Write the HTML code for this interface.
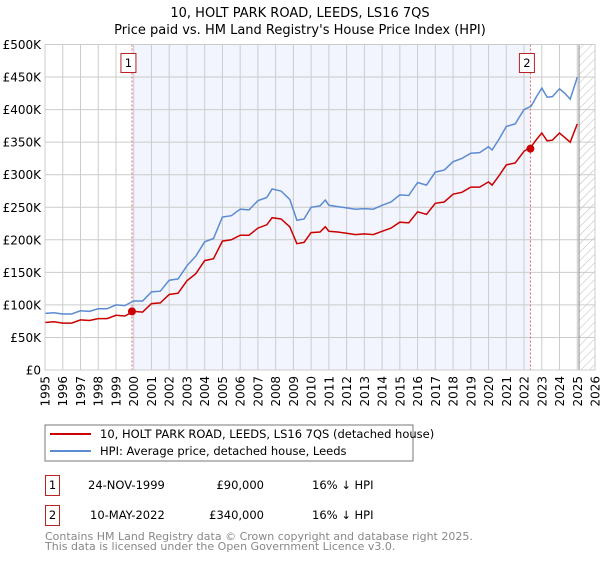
<!DOCTYPE html>
<html><head><meta charset="utf-8"><style>
body{margin:0;background:#fff;font-family:"DejaVu Sans","Liberation Sans",sans-serif}
</style></head><body>
<svg width="600" height="560" viewBox="0 0 600 560" xmlns="http://www.w3.org/2000/svg" font-family="DejaVu Sans, Liberation Sans, sans-serif">
<defs><pattern id="hatch" width="6" height="6" patternUnits="userSpaceOnUse" patternTransform="rotate(45)"><line x1="0" y1="0" x2="0" y2="6" stroke="#bbb" stroke-width="1"/></pattern></defs>
<text x="300" y="17" text-anchor="middle" font-size="13">10, HOLT PARK ROAD, LEEDS, LS16 7QS</text>
<text x="300" y="34" text-anchor="middle" font-size="13">Price paid vs. HM Land Registry's House Price Index (HPI)</text>
<g id="plot"></g>
<rect x="45" y="425" width="368" height="36" fill="#fff" stroke="#777"/>
<line x1="50" y1="434" x2="91" y2="434" stroke="#cc0000" stroke-width="2"/>
<text x="100" y="438" font-size="11.5">10, HOLT PARK ROAD, LEEDS, LS16 7QS (detached house)</text>
<line x1="50" y1="451" x2="91" y2="451" stroke="#5b8bd0" stroke-width="2"/>
<text x="100" y="455" font-size="11.5">HPI: Average price, detached house, Leeds</text>
<g font-size="11.5">
<rect x="45.5" y="475.5" width="14" height="20" fill="#fff" stroke="#b22"/>
<text x="52.5" y="489" text-anchor="middle">1</text>
<text x="88" y="489">24-NOV-1999</text>
<text x="264" y="489" text-anchor="end">£90,000</text>
<text x="312" y="489">16% ↓ HPI</text>
<rect x="45.5" y="505.5" width="14" height="20" fill="#fff" stroke="#b22"/>
<text x="52.5" y="519" text-anchor="middle">2</text>
<text x="90" y="519">10-MAY-2022</text>
<text x="264" y="519" text-anchor="end">£340,000</text>
<text x="312" y="519">16% ↓ HPI</text>
</g>
<text x="45" y="540" font-size="11" fill="#888">Contains HM Land Registry data © Crown copyright and database right 2025.</text>
<text x="45" y="550" font-size="11" fill="#888">This data is licensed under the Open Government Licence v3.0.</text>
</svg>
<script>
const hpiYears=[1995,1995.5,1996,1996.5,1997,1997.5,1998,1998.5,1999,1999.5,2000,2000.5,2001,2001.5,2002,2002.5,2003,2003.5,2004,2004.5,2005,2005.5,2006,2006.5,2007,2007.5,2007.8,2008.3,2008.8,2009.2,2009.6,2010,2010.5,2010.8,2011,2011.5,2012,2012.5,2013,2013.5,2014,2014.5,2015,2015.5,2016,2016.5,2017,2017.5,2018,2018.5,2019,2019.5,2020,2020.2,2020.6,2021,2021.5,2022,2022.4,2022.7,2023,2023.3,2023.6,2024,2024.3,2024.6,2025];
const hpiValues=[87000,88000,86000,86000,91000,90000,94000,94000,100000,99000,106000,106000,120000,121000,138000,140000,160000,175000,197000,202000,235000,237000,247000,246000,260000,265000,278000,275000,262000,230000,232000,250000,252000,261000,253000,251000,249000,247000,248000,247000,253000,258000,269000,268000,288000,284000,304000,307000,320000,325000,333000,334000,343000,338000,355000,374000,378000,400000,405000,420000,433000,419000,420000,432000,425000,416000,450000];
const propYears=hpiYears;
const propValues=[73000,74000,72000,72000,77000,76000,79000,79000,84000,83000,90000,89000,102000,103000,116000,118000,137000,148000,168000,171000,198000,200000,207000,207000,218000,223000,234000,232000,220000,194000,196000,211000,212000,220000,213000,212000,210000,208000,209000,208000,213000,218000,227000,226000,243000,239000,256000,258000,270000,273000,281000,281000,289000,284000,299000,315000,318000,336000,343000,354000,364000,352000,353000,364000,357000,350000,378000];
const saleYears=[1999.9,2022.36];
const saleValues=[90000,340000];
const saleLabels=["1","2"];
const yTicks=[0,50000,100000,150000,200000,250000,300000,350000,400000,450000,500000];
const yTickLabels=["£0","£50K","£100K","£150K","£200K","£250K","£300K","£350K","£400K","£450K","£500K"];
const xTicks=[1995,1996,1997,1998,1999,2000,2001,2002,2003,2004,2005,2006,2007,2008,2009,2010,2011,2012,2013,2014,2015,2016,2017,2018,2019,2020,2021,2022,2023,2024,2025,2026];

const X0=45,X1=595,Y0=370,Y1=44.5,xMin=1995,xMax=2026,yMax=500000;
const xs=v=>X0+(v-xMin)/(xMax-xMin)*(X1-X0);
const ys=v=>Y0-v/yMax*(Y0-Y1);
const NS="http://www.w3.org/2000/svg";
const g=document.getElementById('plot');
function mk(tag,attrs){const e=document.createElementNS(NS,tag);for(const k in attrs)e.setAttribute(k,attrs[k]);g.appendChild(e);return e;}
let e;
e=mk('rect',{x:X0,y:Y1,width:X1-X0,height:Y0-Y1,fill:'#fff'});


e=mk('rect',{x:xs(saleYears[0]),y:Y1,width:xs(saleYears[1])-xs(saleYears[0]),height:Y0-Y1,fill:'#f2f5fd'});


e=mk('rect',{x:xs(2025.1),y:Y1,width:X1-xs(2025.1),height:Y0-Y1,fill:'url(#hatch)'});


yTicks.forEach((t,i)=>{
 e=mk('line',{x1:X0,x2:X1,y1:ys(t),y2:ys(t),stroke:'#ccc','stroke-width':1});
 
 
 e=mk('text',{x:X0-4,y:ys(t)+4.5,'text-anchor':'end','font-size':12});
 e.textContent=yTickLabels[i];
 
 
});
xTicks.forEach(t=>{
 e=mk('line',{x1:xs(t),x2:xs(t),y1:Y1,y2:Y0,stroke:'#ccc','stroke-width':1});
 
 
 e=mk('text',{x:0,y:0,'text-anchor':'end','font-size':12,transform:`translate(${xs(t)+4.5},${Y0+6}) rotate(-90)`});
 e.textContent=t;
 
 
});
e=mk('line',{x1:xs(2025.1),x2:xs(2025.1),y1:Y1,y2:Y0,stroke:'#888','stroke-width':1});


saleYears.forEach((s,i)=>{
 e=mk('line',{x1:xs(s),x2:xs(s),y1:Y1,y2:Y0,stroke:'#e06666','stroke-width':1,'stroke-dasharray':'2,2'});
 
 
 e=mk('rect',{x:xs(s)-11,y:53.5,width:15,height:19,fill:'#fff',stroke:'#b22'});
 
 
 e=mk('text',{x:xs(s)-3.5,y:67,'text-anchor':'middle','font-size':11.5});
 e.textContent=saleLabels[i];
 
 
});
e=mk('path',{d:hpiYears.map((y,i)=>(i?'L':'M')+xs(y).toFixed(1)+','+ys(hpiValues[i]).toFixed(1)).join(''),fill:'none',stroke:'#5b8bd0','stroke-width':1.5});


e=mk('path',{d:propYears.map((y,i)=>(i?'L':'M')+xs(y).toFixed(1)+','+ys(propValues[i]).toFixed(1)).join(''),fill:'none',stroke:'#cc0000','stroke-width':1.5});


saleYears.forEach((s,i)=>{
 e=mk('circle',{cx:xs(s),cy:ys(saleValues[i]),r:4,fill:'#cc0000'});
 
 
});
e=mk('rect',{x:X0,y:Y1,width:X1-X0,height:Y0-Y1,fill:'none',stroke:'#ccc'});


</script>
</body></html>
